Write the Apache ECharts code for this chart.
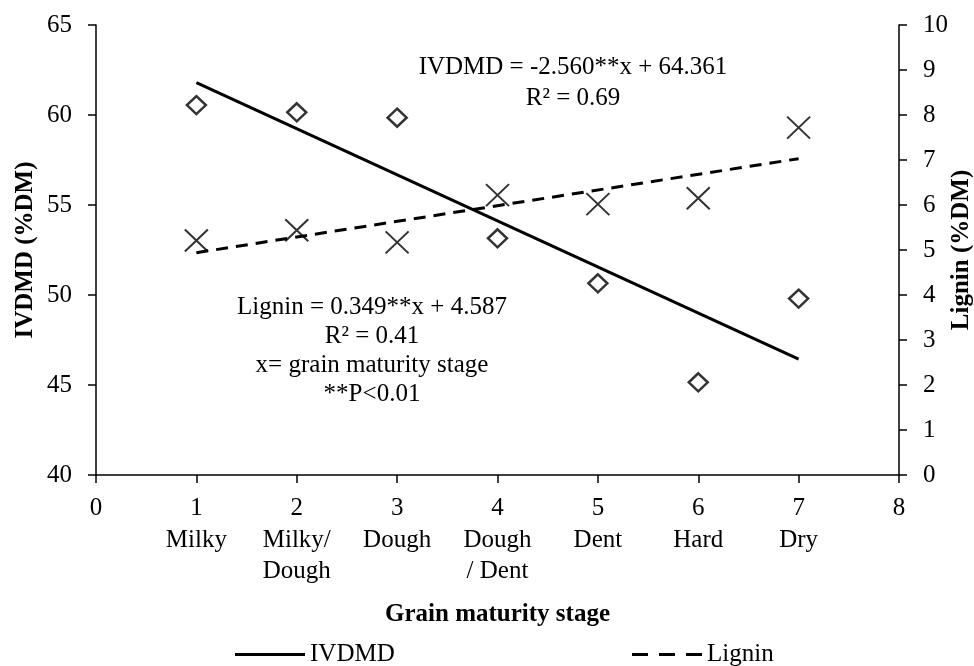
<!DOCTYPE html>
<html>
<head>
<meta charset="utf-8">
<script src="https://cdn.jsdelivr.net/npm/echarts@6/dist/echarts.min.js"></script>
<style>
  html, body { margin: 0; padding: 0; background: #fff; }
  #chart { width: 974px; height: 666px; }
</style>
</head>
<body>
<div id="chart"></div>
<script>
// grain maturity stages
const stages = [1, 2, 3, 4, 5, 6, 7];
const stageNames = ['Milky', 'Milky/\nDough', 'Dough', 'Dough\n/ Dent', 'Dent', 'Hard', 'Dry'];

const ivdmd = [60.55, 60.15, 59.85, 53.15, 50.65, 45.15, 49.8];
const lignin = [5.21, 5.44, 5.17, 6.22, 6.02, 6.15, 7.72];

// fitted trend line ends (x = 1 and x = 7)
const ivdmdFit = [61.8, 46.44];
const ligninFit = [4.94, 7.03];

const font = '"Liberation Serif", "DejaVu Serif", serif';
const fs = 25;

const chart = echarts.init(document.getElementById('chart'));

const axisLine = { show: true, lineStyle: { color: '#000', width: 1.5 } };
const axisTick = { show: true, inside: false, length: 8, lineStyle: { color: '#000', width: 1.5 } };
const labelStyle = { fontFamily: font, fontSize: fs, color: '#000' };
const titleStyle = { fontFamily: font, fontSize: fs, fontWeight: 'bold', color: '#000' };

const option = {
    backgroundColor: '#fff',
    animation: false,
    textStyle: { fontFamily: font, color: '#000' },
    grid: { left: 96, right: 75, top: 25, bottom: 191, containLabel: false, outerBoundsMode: 'none' },
    legend: [
        {
            data: [{ name: 'IVDMD', icon: 'rect' }],
            left: 230, top: 637,
            itemWidth: 70, itemHeight: 3,
            textStyle: labelStyle
        },
        {
            data: [{ name: 'Lignin', icon: 'path://M0,0h16v3h-16zM27,0h16v3h-16zM54,0h16v3h-16z' }],
            left: 627, top: 637,
            itemWidth: 70, itemHeight: 3,
            textStyle: labelStyle
        }
    ],
    xAxis: {
        type: 'value',
        min: 0, max: 8, interval: 1,
        name: 'Grain maturity stage',
        nameLocation: 'middle',
        nameGap: 127,
        nameMoveOverlap: false,
        nameTextStyle: titleStyle,
        axisLine: axisLine,
        axisTick: axisTick,
        splitLine: { show: false },
        axisLabel: Object.assign({
            margin: 18,
            lineHeight: 31.5,
            verticalAlign: 'top',
            formatter: function (v) {
                const i = stages.indexOf(v);
                return i >= 0 ? v + '\n' + stageNames[i] : String(v);
            }
        }, labelStyle)
    },
    yAxis: [
        {
            type: 'value',
            min: 40, max: 65, interval: 5,
            name: 'IVDMD (%DM)',
            nameLocation: 'middle',
            nameGap: 58,
            nameMoveOverlap: false,
            nameTextStyle: titleStyle,
            axisLine: axisLine,
            axisTick: axisTick,
            splitLine: { show: false },
            axisLabel: Object.assign({ margin: 24 }, labelStyle)
        },
        {
            type: 'value',
            min: 0, max: 10, interval: 1,
            position: 'right',
            name: 'Lignin (%DM)',
            nameLocation: 'middle',
            nameGap: 50,
            nameRotate: 90,
            nameMoveOverlap: false,
            nameTextStyle: titleStyle,
            axisLine: axisLine,
            axisTick: axisTick,
            splitLine: { show: false },
            axisLabel: Object.assign({ margin: 24 }, labelStyle)
        }
    ],
    series: [
        {
            name: 'IVDMD',
            type: 'line',
            yAxisIndex: 0,
            data: [[stages[0], ivdmdFit[0]], [stages[6], ivdmdFit[1]]],
            showSymbol: false,
            symbol: 'none',
            lineStyle: { color: '#000', width: 3 },
            itemStyle: { color: '#000' },
            z: 2
        },
        {
            name: 'Lignin',
            type: 'line',
            yAxisIndex: 1,
            data: [[stages[0], ligninFit[0]], [stages[6], ligninFit[1]]],
            showSymbol: false,
            symbol: 'none',
            lineStyle: { color: '#000', width: 3, type: [12, 8] },
            itemStyle: { color: '#000' },
            z: 2
        },
        {
            name: 'IVDMD data',
            type: 'scatter',
            yAxisIndex: 0,
            data: stages.map((s, i) => [s, ivdmd[i]]),
            symbol: 'diamond',
            symbolSize: [19, 18],
            itemStyle: { color: '#fff', borderColor: '#000', borderWidth: 2.5 },
            z: 3
        },
        {
            name: 'Lignin data',
            type: 'scatter',
            yAxisIndex: 1,
            data: stages.map((s, i) => [s, lignin[i]]),
            symbol: 'path://M0,0L10,10M10,0L0,10',
            symbolSize: [23, 22],
            itemStyle: { color: 'none', borderColor: '#000', borderWidth: 2 },
            z: 3
        }
    ],
    graphic: [
        {
            type: 'text',
            style: {
                text: 'IVDMD = -2.560**x + 64.361\nR² = 0.69',
                x: 573, y: 52, align: 'center', verticalAlign: 'top',
                font: fs + 'px ' + font, lineHeight: 31, fill: '#000'
            }
        },
        {
            type: 'text',
            style: {
                text: 'Lignin = 0.349**x + 4.587\nR² = 0.41\nx= grain maturity stage\n**P<0.01',
                x: 372, y: 293, align: 'center', verticalAlign: 'top',
                font: fs + 'px ' + font, lineHeight: 29, fill: '#000'
            }
        }
    ]
};

chart.setOption(option);
</script>
</body>
</html>
